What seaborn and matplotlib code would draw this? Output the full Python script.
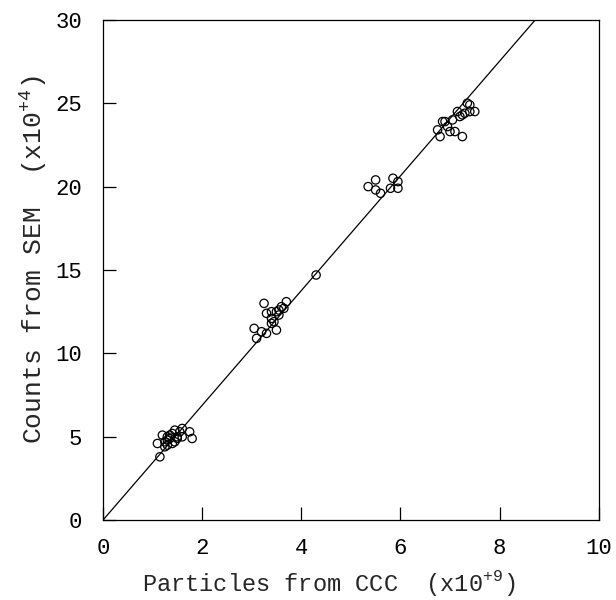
import numpy as np
import pandas as pd
import seaborn as sns
import matplotlib.pyplot as plt

# particles from CCC (x1e9) and counts from SEM (x1e4)
ccc = [1.15, 1.1, 1.2, 1.25, 1.3, 1.3, 1.35, 1.4, 1.45, 1.5, 1.45, 1.55, 1.6, 1.5, 1.4, 1.3,
       1.75, 1.8, 1.6, 1.35, 1.25,
       3.05, 3.1, 3.2, 3.25, 3.3, 3.3, 3.4, 3.4, 3.45, 3.5, 3.5, 3.55, 3.6, 3.55, 3.7, 3.65, 3.4,
       4.3,
       5.35, 5.5, 5.5, 5.6, 5.8, 5.85, 5.95, 5.95,
       6.75, 6.8, 6.85, 6.9, 6.95, 7.0, 7.1, 7.15, 7.2, 7.25, 7.25, 7.3, 7.35, 7.4, 7.4, 7.5, 7.05]
sem = [3.8, 4.6, 5.1, 4.4, 4.8, 5.0, 4.9, 5.2, 5.4, 5.0, 4.7, 5.3, 5.5, 4.9, 4.6, 4.5,
       5.3, 4.9, 5.0, 5.1, 4.7,
       11.5, 10.9, 11.3, 13.0, 12.4, 11.2, 11.8, 12.1, 11.9, 12.5, 11.4, 12.6, 12.8, 12.3, 13.1, 12.7, 12.5,
       14.7,
       20.0, 20.4, 19.8, 19.6, 19.9, 20.5, 20.3, 19.9,
       23.4, 23.0, 23.9, 23.9, 23.6, 23.3, 23.3, 24.5, 24.2, 23.0, 24.3, 24.4, 25.0, 24.9, 24.5, 24.5, 24.0]
fit_slope = 3.44
fit_x = [0, 10]

df = pd.DataFrame({'ccc': ccc, 'sem': sem})
fit = pd.DataFrame({'x': fit_x, 'y': [v * fit_slope for v in fit_x]})

sns.set_style('white')
plt.rcParams['font.family'] = ['Liberation Mono', 'DejaVu Sans']
plt.rcParams['mathtext.fontset'] = 'custom'
plt.rcParams['mathtext.rm'] = 'Liberation Mono'

fig = plt.figure(figsize=(6.16, 6.0), dpi=100)
ax = fig.add_axes([0.167, 0.133, 0.805, 0.834])

sns.lineplot(data=fit, x='x', y='y', ax=ax, color='black', linewidth=0.9)
sns.scatterplot(data=df, x='ccc', y='sem', ax=ax, s=36, facecolor='none',
                edgecolor='black', linewidth=0.9)

ax.set_xlim(0, 10)
ax.set_ylim(0, 30)
ax.set_xticks(np.arange(0, 11, 2))
ax.set_yticks(np.arange(0, 31, 5))
ax.tick_params(direction='in', length=9.5, width=0.9, labelsize=16,
               bottom=True, left=True, colors='black')
ax.tick_params(axis='x', pad=13)
ax.tick_params(axis='y', pad=15)
for sp in ax.spines.values():
    sp.set_color('black')
    sp.set_linewidth(0.9)

ax.set_xlabel('Particles from CCC  (x10$^{+9}$)', fontsize=17)
ax.set_ylabel('Counts from SEM  (x10$^{+4}$)', fontsize=19)
ax.xaxis.set_label_coords(0.455, -0.095)
ax.yaxis.set_label_coords(-0.108, 0.52)

fig.savefig('out.png', dpi=100)
